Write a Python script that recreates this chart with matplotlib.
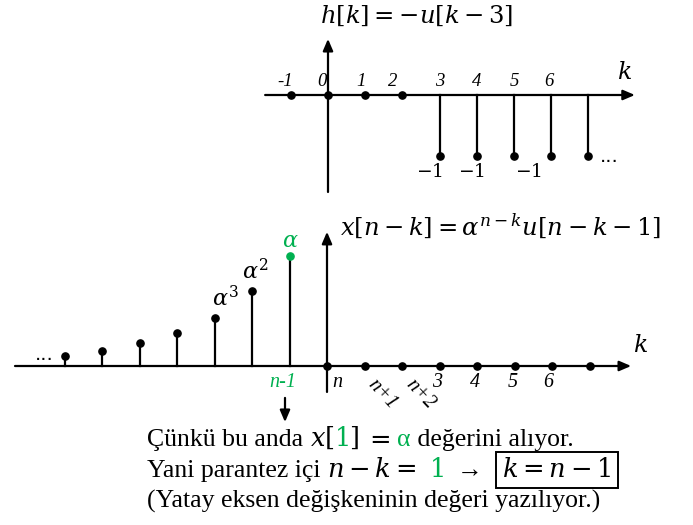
import numpy as np
import matplotlib.pyplot as plt

plt.rcParams['mathtext.fontset'] = 'dejavuserif'

GREEN = '#00B050'
SERIF = 'Liberation Serif'

# top panel: h[k] = -u[k-3]
k_top = [-1, 0, 1, 2, 3, 4, 5, 6, 7]
h_top = [0, 0, 0, 0, -1, -1, -1, -1, -1]
top_ticks = ['-1', '0', '1', '2', '3', '4', '5', '6']

# bottom panel: x[n-k], k measured from n
k_bot = [-7, -6, -5, -4, -3, -2, -1, 0, 1, 2, 3, 4, 5, 6, 7]
x_bot = [0.09, 0.14, 0.21, 0.30, 0.44, 0.68, 1.0, 0, 0, 0, 0, 0, 0, 0, 0]
bot_ticks = ['n-1', 'n', 'n+1', 'n+2', '3', '4', '5', '6']

fig = plt.figure(figsize=(6.93, 5.25), dpi=100)


def arrow(ax, x0, y0, x1, y1):
    ax.annotate('', xy=(x1, y1), xytext=(x0, y0),
                arrowprops=dict(arrowstyle='-|>,head_length=0.7,head_width=0.3',
                                color='black', lw=1.6, shrinkA=0, shrinkB=0))


def stems(ax, k, v, colors):
    for kk, vv, c in zip(k, v, colors):
        if vv != 0:
            ax.plot([kk, kk], [0, vv], color='black', lw=1.6, zorder=2)
        ax.plot(kk, vv, 'o', color=c, ms=5.2, zorder=3)


# ---------- top ----------
ax1 = fig.add_axes([0, 1 - 200 / 525, 1, 200 / 525])
ax1.set_xlim(-328 / 37.2, 365 / 37.2)
ax1.set_ylim(-105 / 61, 95 / 61)
ax1.axis('off')

arrow(ax1, -1.69, 0, 8.25, 0)
arrow(ax1, 0, -1.59, 0, 0.92)
stems(ax1, k_top, h_top, ['black'] * len(k_top))

top_dx = [-0.15, -0.15, -0.12, -0.25, 0, 0, 0, -0.05]
for kk, lab, dx in zip(k_top, top_ticks, top_dx):
    ax1.text(kk + dx, 0.08, lab, ha='center', va='bottom', fontsize=13.5,
             family=SERIF, style='italic')
for kx in [3 - 0.28, 4 - 0.15, 5.4]:
    ax1.text(kx, -1.26, r'$-1$', ha='center', va='center', fontsize=13.5)
ax1.text(7.3, -1.0, '...', ha='left', va='center', fontsize=14)
ax1.text(7.96, 0.38, r'$k$', ha='center', va='center', fontsize=17)
ax1.text(2.39, 1.30, r'$h[k]=-u[k-3]$', ha='center', va='center', fontsize=17.5)

# ---------- bottom ----------
ax2 = fig.add_axes([0, 0, 1, 325 / 525])
ax2.set_xlim(-327 / 37.5, 366 / 37.5)
ax2.set_ylim(-159 / 110, 166 / 110)
ax2.axis('off')

arrow(ax2, -8.32, 0, 8.11, 0)
arrow(ax2, 0, -0.236, 0, 1.22)
bcolors = [GREEN if kk == -1 else 'black' for kk in k_bot]
stems(ax2, k_bot, x_bot, bcolors)

ax2.text(-0.99, 1.14, r'$\alpha$', color=GREEN, ha='center', va='center', fontsize=16)
ax2.text(-1.92, 0.87, r'$\alpha^2$', ha='center', va='center', fontsize=16)
ax2.text(-2.72, 0.62, r'$\alpha^3$', ha='center', va='center', fontsize=16)
ax2.text(-7.55, 0.10, '...', ha='center', va='center', fontsize=14)
ax2.text(0.35, 1.28, r'$x[n-k]=\alpha^{n-k}u[n-k-1]$', ha='left', va='center',
         fontsize=17.5)
ax2.text(8.35, 0.19, r'$k$', ha='center', va='center', fontsize=17)

bot_pos = [(-1.17, -0.15, 0), (0.27, -0.15, 0), (1.47, -0.26, -47),
           (2.47, -0.26, -47), (2.94, -0.15, 0), (3.95, -0.15, 0),
           (4.95, -0.15, 0), (5.9, -0.15, 0)]
for lab, (px, py, rot) in zip(bot_ticks, bot_pos):
    ax2.text(px, py, lab, ha='center', va='center', fontsize=14.5, family=SERIF,
             style='italic', rotation=rot,
             color=GREEN if lab == 'n-1' else 'black')
arrow(ax2, -1.12, -0.29, -1.12, -0.51)

# ---------- explanation text ----------
renderer = fig.canvas.get_renderer()
TXT = 18.5
MATH = 18.5


def line(parts, x, y):
    for s, c, box in parts:
        size = MATH if s.startswith('$') else TXT
        t = fig.text(x, y, s, color=c, va='baseline', ha='left', fontsize=size,
                     family=SERIF)
        if box:
            t.set_bbox(dict(boxstyle='square,pad=0.25', fc='none', ec='black', lw=1.4))
        bb = t.get_window_extent(renderer)
        x = bb.x1 / fig.bbox.width


line([('Çünkü bu anda ', 'black', False), (r'$x[$', 'black', False),
      (r'$1$', GREEN, False), (r'$]$', 'black', False), (' ', 'black', False),
      (r'$=$', 'black', False), (' ', 'black', False),
      ('α', GREEN, False), (' değerini alıyor.', 'black', False)],
     147 / 693, 1 - 446 / 525)
line([('Yani parantez içi ', 'black', False), (r'$n-k=$', 'black', False),
      ('  ', 'black', False), (r'$1$', GREEN, False), ('  →   ', 'black', False),
      (r'$k=n-1$', 'black', True)],
     147 / 693, 1 - 477 / 525)
line([('(Yatay eksen değişkeninin değeri yazılıyor.)', 'black', False)],
     147 / 693, 1 - 508 / 525)

fig.savefig('out.png', dpi=100)
